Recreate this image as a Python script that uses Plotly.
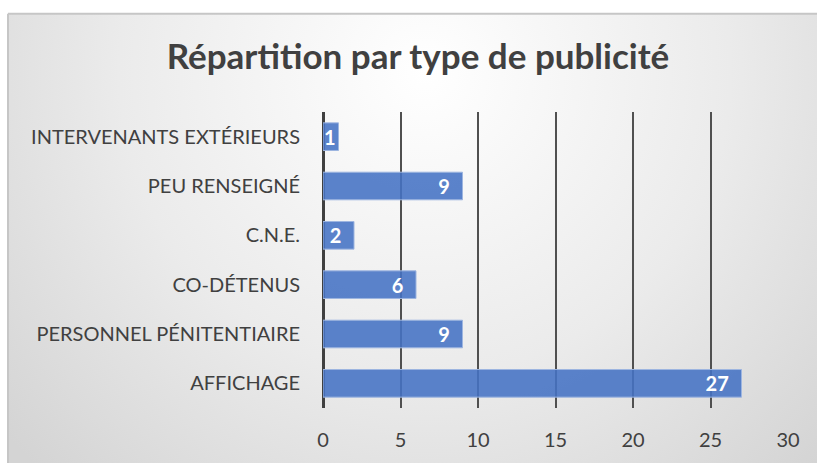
import base64
import plotly.graph_objects as go

# Types de publicité (bottom to top on the chart) and their counts
categories = [
    "AFFICHAGE",
    "PERSONNEL PÉNITENTIAIRE",
    "CO-DÉTENUS",
    "C.N.E.",
    "PEU RENSEIGNÉ",
    "INTERVENANTS EXTÉRIEURS",
]
counts = [27, 9, 6, 2, 9, 1]
x_ticks = [0, 5, 10, 15, 20, 25, 30]

W, H = 817, 463
L, R, T, B = 323, 29, 112, 53
pw, ph = W - L - R, H - T - B


def px_to_paper_x(px):
    return (px - L) / pw


def px_to_paper_y(py):
    return (H - B - py) / ph


# Labels sit a little in from the bar end; the thinnest bar keeps its bare value
labels = [f"{v}\u00a0\u00a0" if v > 1 else str(v) for v in counts]

# Soft radial background of the chart frame
svg = """<svg xmlns='http://www.w3.org/2000/svg' width='820' height='460' viewBox='0 0 820 460' preserveAspectRatio='none'>
<defs><radialGradient id='g' gradientUnits='userSpaceOnUse' cx='420' cy='60' r='560'>
<stop offset='0' stop-color='#ffffff'/><stop offset='0.55' stop-color='#ebebeb'/><stop offset='1' stop-color='#d4d4d4'/>
</radialGradient></defs>
<rect width='820' height='460' fill='url(#g)'/></svg>"""
bg_uri = "data:image/svg+xml;base64," + base64.b64encode(svg.encode()).decode()

fig = go.Figure()
fig.add_trace(go.Bar(
    y=categories,
    x=counts,
    orientation="h",
    marker=dict(color="rgba(68,114,196,0.88)", line=dict(color="#9db5e0", width=1)),
    text=labels,
    textposition="inside",
    insidetextanchor="end",
    textangle=0,
    constraintext="none",
    textfont=dict(family="Lato", size=20, color="white", weight="bold"),
    cliponaxis=False,
))

fig.update_layout(
    width=W, height=H,
    margin=dict(l=L, r=R, t=T, b=B),
    paper_bgcolor="white",
    plot_bgcolor="rgba(0,0,0,0)",
    bargap=0.44,
    showlegend=False,
    title=dict(
        text="<b>Répartition par type de publicité</b>",
        x=418 / W, xref="container", xanchor="center",
        y=1 - 57 / H, yref="container", yanchor="middle",
        font=dict(family="Lato", size=35, color="#404040"),
    ),
    xaxis=dict(
        range=[0, 30], tickvals=x_ticks,
        showgrid=True, gridcolor="#505050", gridwidth=1.5,
        zeroline=True, zerolinecolor="#404040", zerolinewidth=3,
        showline=False, ticks="",
        ticklabelstandoff=18,
        tickfont=dict(family="Lato", size=20, color="#404040"),
    ),
    yaxis=dict(
        showgrid=False, zeroline=False, showline=False, ticks="",
        ticklabelstandoff=22,
        tickfont=dict(family="Lato", size=20, color="#404040"),
        categoryorder="array", categoryarray=categories,
    ),
    images=[dict(
        source=bg_uri, xref="paper", yref="paper",
        x=px_to_paper_x(8), y=px_to_paper_y(13),
        sizex=px_to_paper_x(W + 5) - px_to_paper_x(8),
        sizey=px_to_paper_y(13) - px_to_paper_y(H + 5),
        xanchor="left", yanchor="top", sizing="stretch", layer="below",
    )],
    shapes=[
        dict(type="line", xref="paper", yref="paper",
             x0=px_to_paper_x(8), x1=px_to_paper_x(W + 5),
             y0=px_to_paper_y(13), y1=px_to_paper_y(13),
             line=dict(color="#c6c6c6", width=2), layer="below"),
        dict(type="line", xref="paper", yref="paper",
             x0=px_to_paper_x(8), x1=px_to_paper_x(8),
             y0=px_to_paper_y(13), y1=px_to_paper_y(H + 5),
             line=dict(color="#c6c6c6", width=2), layer="below"),
    ],
)

fig.write_html("out.html")
